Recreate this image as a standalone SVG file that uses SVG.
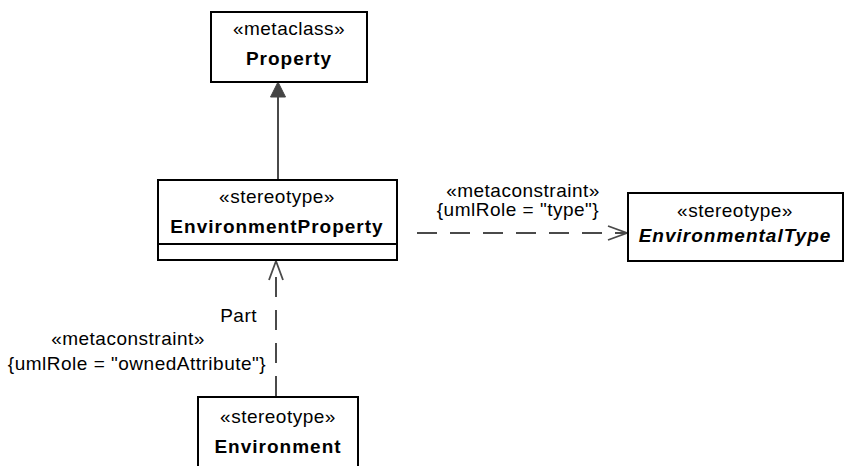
<svg xmlns="http://www.w3.org/2000/svg" width="844" height="466" viewBox="0 0 844 466">
<style>
.box{fill:#fff;stroke:#000;stroke-width:2}
.t{font-family:"Liberation Sans",Arial,sans-serif;font-size:19px;fill:#000;letter-spacing:0.5px}
.b{font-weight:bold;letter-spacing:1px}
.i{font-style:italic}
.c{text-anchor:middle}
.e{text-anchor:end}
.con{fill:none;stroke:#4a4a4a;stroke-width:2}
.dash{stroke-dasharray:20,13}
</style>
<defs>
<marker id="open" markerWidth="24" markerHeight="18" refX="20" refY="8" orient="auto" markerUnits="userSpaceOnUse">
<path d="M1,1 L20,8 L1,15" fill="none" stroke="#4a4a4a" stroke-width="1.8"/>
</marker>
</defs>
<g id="connectors">
<line class="con" x1="278" y1="180" x2="278" y2="95"/>
<polygon points="278,82 270.5,97 285.5,97" fill="#444" stroke="#444" stroke-width="1"/>
<line class="con dash" x1="417" y1="233" x2="627" y2="233" marker-end="url(#open)"/>
<line class="con dash" x1="276" y1="396" x2="276" y2="261" marker-end="url(#open)"/>
<text class="t c" x="523" y="197">«metaconstraint»</text>
<text class="t c" x="518" y="216">{umlRole = "type"}</text>
<text class="t e" x="257" y="322">Part</text>
<text class="t c" x="128" y="345">«metaconstraint»</text>
<text class="t c" x="137" y="370">{umlRole = "ownedAttribute"}</text>
</g>
<g id="Property">
<rect class="box" x="211" y="12" width="156" height="70"/>
<text class="t c" x="289" y="35">«metaclass»</text>
<text class="t b c" x="289" y="65">Property</text>
</g>
<g id="EnvironmentProperty">
<rect class="box" x="158" y="180" width="239" height="80"/>
<line x1="158" y1="244" x2="397" y2="244" stroke="#000" stroke-width="2"/>
<text class="t c" x="277" y="203">«stereotype»</text>
<text class="t b c" x="277" y="233">EnvironmentProperty</text>
</g>
<g id="EnvironmentalType">
<rect class="box" x="628" y="193" width="215" height="68"/>
<text class="t c" x="735" y="217">«stereotype»</text>
<text class="t b i c" x="735" y="242">EnvironmentalType</text>
</g>
<g id="Environment">
<rect class="box" x="198" y="397" width="160" height="80"/>
<text class="t c" x="278" y="423">«stereotype»</text>
<text class="t b c" x="278" y="453">Environment</text>
</g>
</svg>
